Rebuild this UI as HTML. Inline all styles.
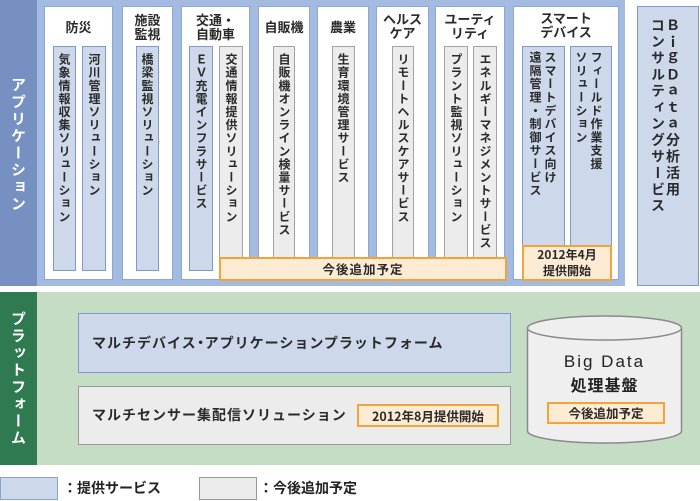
<!DOCTYPE html>
<html><head><meta charset="utf-8">
<style>
*{margin:0;padding:0;box-sizing:border-box}
body{width:700px;height:501px;position:relative;overflow:hidden;background:#fff;font-family:"Liberation Sans","Noto Sans CJK JP",sans-serif;color:#2a2a2a}
.a{position:absolute}
.g{position:absolute;top:6px;height:274px;background:#fff;border:1px solid #8da7d3}
.lbl{position:absolute;text-align:center;font-weight:bold;font-size:13px;line-height:14px;color:#2a2a2a;font-family:"Noto Sans CJK JP",sans-serif}
.col{position:absolute;top:46px;height:225px;writing-mode:vertical-rl;font-family:"Noto Sans CJK JP",sans-serif;font-weight:bold;font-size:12px;letter-spacing:1.1px;padding-top:6px;text-align:left;color:#2a2a2a}
.b{background:#cdd9eb;border:1px solid #7e9ac8}
.y{background:#ececec;border:1px solid #a3a3a3}
.o{position:absolute;background:#fdebd4;border:2px solid #f2a43a;text-align:center;font-weight:bold;font-family:"Noto Sans CJK JP",sans-serif;color:#2a2a2a}
</style></head><body>

<!-- Application region -->
<div class="a" style="left:0;top:0;width:625px;height:286px;background:#a3bbe0"></div>
<div class="a" style="left:0;top:0;width:37px;height:286px;background:#7590c1"></div>
<div class="a" style="left:0;top:0;width:37px;height:286px;writing-mode:vertical-rl;line-height:37px;padding-top:77px;font-size:15px;letter-spacing:2px;color:#fff;font-weight:bold;font-family:'Noto Sans CJK JP',sans-serif">アプリケーション</div>

<!-- group boxes -->
<div class="g" style="left:44px;width:69px"></div>
<div class="g" style="left:122px;width:51px"></div>
<div class="g" style="left:181px;width:69px"></div>
<div class="g" style="left:258px;width:52px"></div>
<div class="g" style="left:317px;width:52px"></div>
<div class="g" style="left:376px;width:53px"></div>
<div class="g" style="left:435px;width:70px"></div>
<div class="g" style="left:513px;width:106px"></div>

<!-- group labels -->
<div class="lbl" style="left:44px;width:69px;top:20px">防災</div>
<div class="lbl" style="left:122px;width:51px;top:13px">施設<br>監視</div>
<div class="lbl" style="left:181px;width:69px;top:13px">交通・<br>自動車</div>
<div class="lbl" style="left:258px;width:52px;top:20px">自販機</div>
<div class="lbl" style="left:317px;width:52px;top:20px">農業</div>
<div class="lbl" style="left:376px;width:53px;top:12px">ヘルス<br>ケア</div>
<div class="lbl" style="left:435px;width:70px;top:12px">ユーティ<br>リティ</div>
<div class="lbl" style="left:513px;width:106px;top:11px">スマート<br>デバイス</div>

<!-- columns -->
<div class="col b" style="left:53px;width:23px;line-height:21px">気象情報収集ソリューション</div>
<div class="col b" style="left:82px;width:24px;line-height:22px">河川管理ソリューション</div>
<div class="col b" style="left:136px;width:23px;line-height:21px">橋梁監視ソリューション</div>
<div class="col b" style="left:189px;width:24px;line-height:22px">ＥＶ充電インフラサービス</div>
<div class="col y" style="left:219px;width:24px;line-height:22px">交通情報提供ソリューション</div>
<div class="col y" style="left:273px;width:22px;line-height:20px">自販機オンライン検量サービス</div>
<div class="col y" style="left:332px;width:23px;line-height:21px">生育環境管理サービス</div>
<div class="col y" style="left:392px;width:22px;line-height:20px">リモートヘルスケアサービス</div>
<div class="col y" style="left:444px;width:24px;line-height:22px">プラント監視ソリューション</div>
<div class="col y" style="left:473px;width:24px;line-height:22px">エネルギーマネジメントサービス</div>
<div class="col b" style="left:522px;width:43px;height:210px;line-height:15px;padding-right:6px;letter-spacing:1.3px;padding-top:4px">スマートデバイス向け<br>遠隔管理・制御サービス</div>
<div class="col b" style="left:570px;width:42px;height:210px;line-height:15px;padding-right:7px;letter-spacing:1.3px;padding-top:4px">フィールド作業支援<br>ソリューション</div>

<!-- orange -->
<div class="o" style="left:219px;top:257px;width:288px;height:24px;font-size:12.5px;line-height:20px;letter-spacing:1px">今後追加予定</div>
<div class="o" style="left:522px;top:245px;width:90px;height:36px;font-size:12px;line-height:16px">2012年4月<br>提供開始</div>

<!-- Big Data consulting -->
<div class="a" style="left:637px;top:6px;width:62px;height:280px;background:#cdd9eb;border:1px solid #7e9ac8"></div>
<div class="a" style="left:650px;top:6px;width:30px;height:270px;writing-mode:vertical-rl;line-height:15px;font-size:14px;letter-spacing:2.4px;padding-top:12px;font-weight:bold;font-family:'Noto Sans CJK JP',sans-serif;color:#2a2a2a">ＢｉｇＤａｔａ分析活用<br>コンサルティングサービス</div>

<!-- Platform region -->
<div class="a" style="left:0;top:292px;width:700px;height:173px;background:#c5dcc5"></div>
<div class="a" style="left:0;top:292px;width:37px;height:173px;background:#2f7a50"></div>
<div class="a" style="left:0;top:292px;width:37px;height:173px;writing-mode:vertical-rl;line-height:37px;padding-top:19px;font-size:15px;letter-spacing:2px;color:#fff;font-weight:bold;font-family:'Noto Sans CJK JP',sans-serif">プラットフォーム</div>

<div class="a" style="left:78px;top:313px;width:433px;height:60px;background:#cdd9eb;border:1px solid #7e9ac8;padding-left:13px;line-height:58px;font-size:14px;letter-spacing:1px;font-weight:bold;font-family:'Noto Sans CJK JP',sans-serif">マルチデバイス<span style="letter-spacing:0;margin:0 -3px 0 -3px">・</span>アプリケーションプラットフォーム</div>
<div class="a" style="left:78px;top:386px;width:433px;height:59px;background:#ececec;border:1px solid #9a9a9a;padding-left:13px;line-height:57px;font-size:14px;letter-spacing:1px;font-weight:bold;font-family:'Noto Sans CJK JP',sans-serif">マルチセンサー集配信ソリューション</div>
<div class="o" style="left:357px;top:404px;width:142px;height:23px;font-size:12.5px;line-height:19px">2012年8月提供開始</div>

<svg class="a" style="left:0;top:0" width="700" height="501">
  <path d="M527.5,328 L527.5,431 A77,12 0 0 0 681.5,431 L681.5,328" fill="#efefef" stroke="#8a8a8a" stroke-width="1.5"/>
  <ellipse cx="604.5" cy="328" rx="77" ry="12" fill="#efefef" stroke="#8a8a8a" stroke-width="1.5"/>
</svg>
<div class="a" style="left:527px;top:350px;width:155px;text-align:center;font-size:17px;letter-spacing:2px;line-height:24px;font-family:'Liberation Sans',sans-serif;color:#222">Big Data</div>
<div class="a" style="left:527px;top:373px;width:155px;text-align:center;font-size:16px;letter-spacing:1px;line-height:22px;font-weight:bold;font-family:'Noto Sans CJK JP',sans-serif;color:#222">処理基盤</div>
<div class="o" style="left:547px;top:402px;width:118px;height:22px;font-size:12.5px;line-height:18px">今後追加予定</div>

<!-- Legend -->
<div class="a" style="left:0;top:477px;width:58px;height:23px;background:#cdd9eb;border:1px solid #8aa4cc"></div>
<div class="a" style="left:63px;top:478px;font-size:14px;line-height:20px;font-weight:bold;font-family:'Noto Sans CJK JP',sans-serif;color:#222">：提供サービス</div>
<div class="a" style="left:199px;top:477px;width:58px;height:23px;background:#ececec;border:1px solid #999"></div>
<div class="a" style="left:259px;top:478px;font-size:14px;line-height:20px;font-weight:bold;font-family:'Noto Sans CJK JP',sans-serif;color:#222">：今後追加予定</div>

</body></html>
